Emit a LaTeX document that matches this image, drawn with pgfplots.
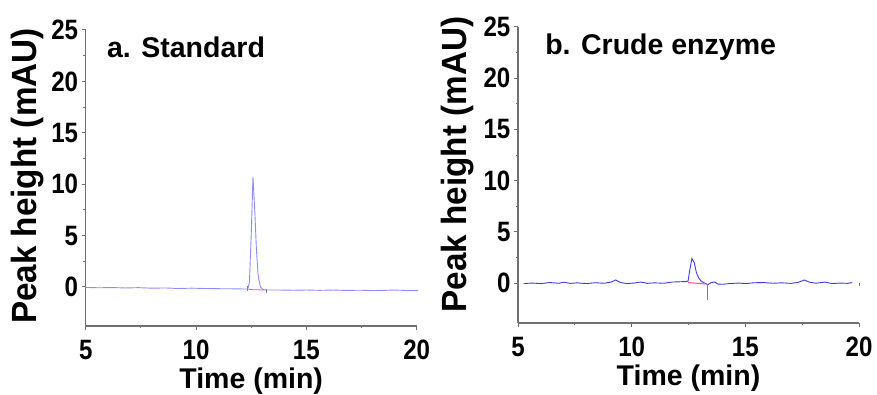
\documentclass[border=0pt]{standalone}
\usepackage{pgfplots}
\pgfplotsset{compat=1.18}
\usepackage{fontspec}
\setmainfont{Liberation Sans}
\definecolor{lineA}{HTML}{8C8CFF}
\definecolor{lineB}{HTML}{3A3AF0}
\definecolor{pinkbase}{HTML}{FF4FA0}
\definecolor{axgray}{HTML}{707070}
\pgfplotsset{
  chrom/.style={
    scale only axis,
    anchor=south west,
    axis lines=left,
    axis line style={axgray, line width=1.3pt, -},
    xmin=5, xmax=20, ymax=25,
    xtick={5,10,15,20}, ytick={0,5,10,15,20,25},
    minor x tick num=1, minor y tick num=1,
    tick style={axgray, line width=1pt},
    major tick length=4pt, minor tick length=2.5pt,
    tick align=outside,
    /pgf/number format/assume math mode=true,
    ticklabel style={font=\fontsize{28}{30}\selectfont\bfseries, inner sep=0pt, xscale=0.86},
    xticklabel style={anchor=center, yshift=-20pt},
    yticklabel style={anchor=east, xshift=-4pt},
    xlabel={Time (min)},
    ylabel={Peak height (mAU)},
    xlabel style={font=\fontsize{28.5}{30}\selectfont\bfseries, inner sep=0pt,
      at={(axis description cs:0.5,0)}, anchor=center, yshift=-55pt},
    ylabel style={font=\fontsize{35}{38}\selectfont\bfseries, inner sep=0pt,
      at={(axis description cs:0,0.5)}, anchor=center, xscale=0.95},
    clip=false,
  }
}
\begin{document}
\begin{tikzpicture}
\begin{axis}[chrom, at={(85.7pt,69pt)}, width=331pt, height=296pt, ymin=-3.8,
  ylabel style={xshift=2pt, yshift=58pt}]
\addplot[lineA, line width=0.9pt] coordinates {
(5.0,-0.05) (5.6,-0.08) (6.2,-0.06) (6.8,-0.1) (7.4,-0.07) (8.0,-0.12) (8.6,-0.1) (9.2,-0.15) (9.8,-0.12) (10.4,-0.15) (11.0,-0.17) (11.6,-0.18) (12.2,-0.2) (12.35,-0.2)
(12.42,0.5) (12.5,5.0) (12.58,10.7) (12.66,7.5) (12.74,3.5) (12.82,1.0) (12.92,0.0) (13.02,-0.25) (13.2,-0.3)
(13.8,-0.3) (14.4,-0.32) (15.0,-0.3) (15.6,-0.33) (16.2,-0.3) (16.8,-0.34) (17.4,-0.32) (18.0,-0.35) (18.6,-0.33) (19.0,-0.3) (19.2,-0.32) (19.6,-0.35) (20.05,-0.36)
};
\addplot[pinkbase, line width=0.8pt] coordinates {(12.38,-0.25) (13.1,-0.3)};
\addplot[gray, line width=0.8pt] coordinates {(12.35,0.1) (12.35,-0.4)};
\addplot[gray, line width=0.8pt] coordinates {(13.2,-0.2) (13.2,-0.6)};
\node[anchor=base west, inner sep=0pt, font=\fontsize{28.5}{30}\selectfont\bfseries] at (axis cs:5.96,22.3) {a. Standard};
\end{axis}
\begin{axis}[chrom, at={(518pt,72pt)}, width=341pt, height=296pt, ymin=-3.9,
  ylabel style={xshift=11pt, yshift=60.5pt}]
\addplot[lineB, line width=0.9pt] coordinates {
(5.25,-0.05) (5.6,0.0) (6.0,-0.05) (6.4,0.05) (6.8,-0.02) (7.0,0.08) (7.3,-0.03) (7.6,0.02) (8.0,-0.05) (8.4,0.03) (8.8,-0.02) (9.1,0.1) (9.3,0.3) (9.5,0.05) (9.8,-0.05) (10.1,0.0) (10.4,0.1) (10.7,-0.03) (11.0,0.02) (11.4,-0.02) (11.8,0.1) (12.1,0.12) (12.4,0.15) (12.48,0.2)
(12.55,1.2) (12.65,2.4) (12.75,2.0) (12.85,1.0) (12.95,0.5) (13.05,0.2) (13.2,0.0) (13.35,-0.15) (13.5,0.05) (13.65,0.1) (13.8,-0.1) (14.0,-0.12) (14.3,-0.05) (14.7,0.0) (15.0,-0.05) (15.4,0.03) (15.8,0.05) (16.2,-0.02) (16.6,0.02) (17.0,-0.03) (17.3,0.05) (17.6,0.3) (17.8,0.1) (18.1,-0.02) (18.5,0.1) (18.8,-0.05) (19.2,0.0) (19.5,-0.03) (19.7,0.05)
};
\addplot[pinkbase, line width=1pt] coordinates {(12.48,0.05) (13.3,-0.1)};
\addplot[gray, line width=0.8pt] coordinates {(13.35,-0.1) (13.35,-1.7)};
\addplot[axgray, line width=1pt] coordinates {(20,0) (20,-0.25)};
\node[anchor=base west, inner sep=0pt, font=\fontsize{28.5}{30}\selectfont\bfseries] at (axis cs:6.19,22.36) {b. Crude enzyme};
\end{axis}
\pgfresetboundingbox
\path[use as bounding box] (0,0) rectangle (877pt,395pt);
\end{tikzpicture}
\end{document}
